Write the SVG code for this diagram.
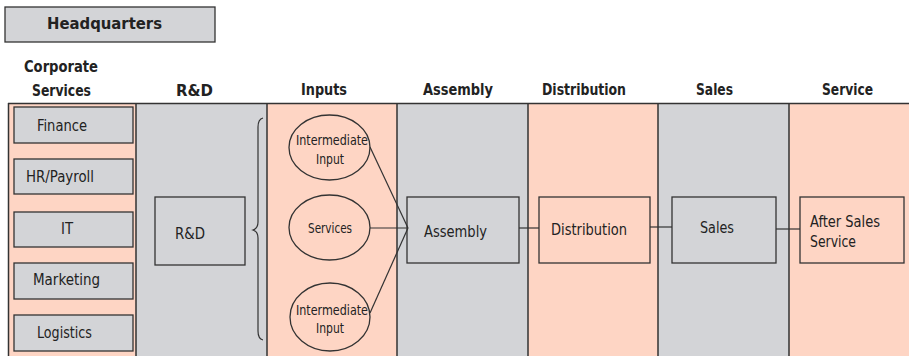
<svg xmlns="http://www.w3.org/2000/svg" width="909" height="356" viewBox="0 0 909 356">
<style>
text{font-family:"DejaVu Sans Condensed","Liberation Sans",sans-serif;fill:#222;}
.hdr{font-weight:bold;font-size:16px;}
.lbl{font-size:15px;}
.big{font-size:16px;}
.sm{font-size:13.5px;}
.peach{fill:#fed5c4;stroke:none;}
.grey{fill:#d3d4d7;stroke:none;}
.sep{stroke:#333;stroke-width:1.5;fill:none;}
.box{stroke:#333;stroke-width:1.3;}
.bg{fill:#d3d4d7;}
.bp{fill:#fed5c4;}
.conn line{stroke:#333;stroke-width:1.2;fill:none;}
</style>
<rect width="909" height="356" fill="#fff"/>
<g id="headquarters">
<rect x="5" y="7" width="210" height="35" class="box bg"/>
<text x="47" y="29" class="hdr" textLength="115" lengthAdjust="spacingAndGlyphs">Headquarters</text>
</g>
<g id="columns">
<rect x="8" y="103" width="128" height="253" class="peach"/>
<rect x="136" y="103" width="131" height="253" class="grey"/>
<rect x="267" y="103" width="130" height="253" class="peach"/>
<rect x="397" y="103" width="131" height="253" class="grey"/>
<rect x="528" y="103" width="130" height="253" class="peach"/>
<rect x="658" y="103" width="131" height="253" class="grey"/>
<rect x="789" y="103" width="120" height="253" class="peach"/>
<path class="sep" d="M8 103.5H909M8.5 103V356M136 103V356M267 103V356M397 103V356M528 103V356M658 103V356M789 103V356"/>
</g>
<g id="headers">
<text x="24" y="72" class="hdr" textLength="74" lengthAdjust="spacingAndGlyphs">Corporate</text>
<text x="32" y="96" class="hdr" textLength="59" lengthAdjust="spacingAndGlyphs">Services</text>
<text x="176" y="96" class="hdr" textLength="37" lengthAdjust="spacingAndGlyphs">R&amp;D</text>
<text x="301" y="95" class="hdr" textLength="46" lengthAdjust="spacingAndGlyphs">Inputs</text>
<text x="423" y="95" class="hdr" textLength="70" lengthAdjust="spacingAndGlyphs">Assembly</text>
<text x="542" y="95" class="hdr" textLength="84" lengthAdjust="spacingAndGlyphs">Distribution</text>
<text x="696" y="95" class="hdr" textLength="37" lengthAdjust="spacingAndGlyphs">Sales</text>
<text x="822" y="95" class="hdr" textLength="51" lengthAdjust="spacingAndGlyphs">Service</text>
</g>
<g id="finance"><rect x="14" y="107" width="119" height="36" class="box bg"/><text x="37" y="131" class="lbl" textLength="50" lengthAdjust="spacingAndGlyphs">Finance</text></g>
<g id="hr-payroll"><rect x="14" y="159" width="119" height="35" class="box bg"/><text x="26" y="182" class="lbl" textLength="68" lengthAdjust="spacingAndGlyphs">HR/Payroll</text></g>
<g id="it"><rect x="14" y="212" width="119" height="35" class="box bg"/><text x="61" y="234" class="lbl" textLength="12" lengthAdjust="spacingAndGlyphs">IT</text></g>
<g id="marketing"><rect x="14" y="263" width="119" height="36" class="box bg"/><text x="33" y="285" class="lbl" textLength="67" lengthAdjust="spacingAndGlyphs">Marketing</text></g>
<g id="logistics"><rect x="14" y="315" width="119" height="36" class="box bg"/><text x="37" y="338" class="lbl" textLength="55" lengthAdjust="spacingAndGlyphs">Logistics</text></g>
<g id="rd"><rect x="155" y="197" width="90" height="68" class="box bg"/><text x="175" y="239" class="lbl" textLength="30" lengthAdjust="spacingAndGlyphs">R&amp;D</text></g>
<g id="brace"><path d="M263 118 C259 119 258 122 258 127 L258 222 C258 227 256 229 253 230 C256 231 258 233 258 238 L258 331 C258 336 259 339 263 340" stroke="#333" stroke-width="1.2" fill="none"/></g>
<g id="intermediate-input-1"><ellipse cx="329.5" cy="147.5" rx="40.5" ry="32.5" class="box bp"/><text x="296" y="145" class="sm" textLength="72" lengthAdjust="spacingAndGlyphs">Intermediate</text><text x="316" y="164" class="sm" textLength="28" lengthAdjust="spacingAndGlyphs">Input</text></g>
<g id="services"><ellipse cx="329.5" cy="227.5" rx="40.5" ry="32.5" class="box bp"/><text x="308" y="233" class="sm" textLength="44" lengthAdjust="spacingAndGlyphs">Services</text></g>
<g id="intermediate-input-2"><ellipse cx="330" cy="317" rx="40" ry="34" class="box bp"/><text x="296" y="315" class="sm" textLength="72" lengthAdjust="spacingAndGlyphs">Intermediate</text><text x="316" y="333" class="sm" textLength="28" lengthAdjust="spacingAndGlyphs">Input</text></g>
<g id="assembly"><rect x="407" y="197" width="112" height="66" class="box bg"/><text x="424" y="237" class="big" textLength="63" lengthAdjust="spacingAndGlyphs">Assembly</text></g>
<g id="distribution"><rect x="539" y="197" width="111" height="66" class="box bp"/><text x="551" y="235" class="big" textLength="76" lengthAdjust="spacingAndGlyphs">Distribution</text></g>
<g id="sales"><rect x="672" y="197" width="104" height="66" class="box bg"/><text x="700" y="233" class="big" textLength="34" lengthAdjust="spacingAndGlyphs">Sales</text></g>
<g id="after-sales-service"><rect x="800" y="197" width="104" height="66" class="box bp"/><text x="810" y="227" class="big" textLength="70" lengthAdjust="spacingAndGlyphs">After Sales</text><text x="810" y="247" class="big" textLength="46" lengthAdjust="spacingAndGlyphs">Service</text></g>
<g id="connectors" class="conn">
<line x1="370" y1="147" x2="408" y2="228"/>
<line x1="370" y1="228" x2="408" y2="228"/>
<line x1="370" y1="313" x2="408" y2="228"/>
<line x1="519" y1="228" x2="539" y2="228"/>
<line x1="650" y1="227" x2="672" y2="227"/>
<line x1="776" y1="229" x2="800" y2="229"/>
</g>
</svg>
